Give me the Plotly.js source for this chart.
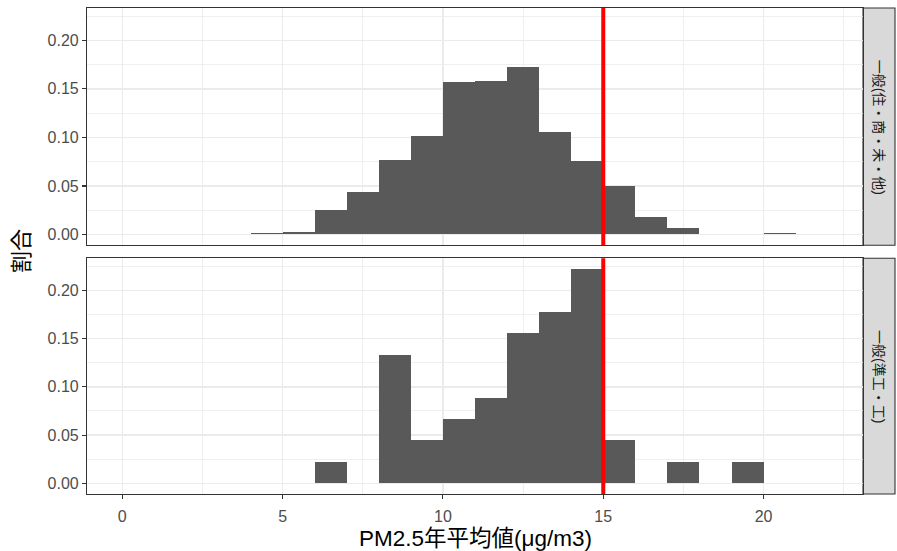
<!DOCTYPE html>
<html>
<head>
<meta charset="utf-8">
<script src="https://cdn.plot.ly/plotly-3.0.1.min.js"></script>
<style>html,body{margin:0;padding:0;background:#fff;}#chart{width:897px;height:551px;}</style>
</head>
<body>
<div id="chart"></div>
<script>
// Panel labels (facet strips)
const panelLabels = ["一般(住・商・未・他)", "一般(準工・工)"];

// Top panel: bin start (µg/m3, width 1) and share
const binsResidential = [4, 5, 6, 7, 8, 9, 10, 11, 12, 13, 14, 15, 16, 17, 20];
const shareResidential = [0.0013, 0.003, 0.025, 0.044, 0.0766, 0.1019, 0.157, 0.158, 0.1726, 0.106, 0.0752, 0.0496, 0.0185, 0.0072, 0.0013];

// Bottom panel
const binsIndustrial = [6, 8, 9, 10, 11, 12, 13, 14, 15, 17, 19];
const shareIndustrial = [0.0222, 0.1333, 0.0444, 0.0667, 0.0889, 0.1556, 0.1778, 0.2222, 0.0444, 0.0222, 0.0222];

const binWidth = 1;
const standardValue = 15;

const xTickVals = [0, 5, 10, 15, 20];
const yTickVals = [0, 0.05, 0.10, 0.15, 0.20];

const xTitle = "PM2.5年平均値(μg/m3)";
const yTitle = "割合";

const FONT = "Liberation Sans, Arial, Noto Sans CJK JP, sans-serif";
const barColor = "#595959";

const traces = [
  {type: "bar", x: binsResidential, y: shareResidential, width: binWidth, offset: 0,
   marker: {color: barColor, line: {width: 0}}, xaxis: "x2", yaxis: "y2", hoverinfo: "x+y"},
  {type: "bar", x: binsIndustrial, y: shareIndustrial, width: binWidth, offset: 0,
   marker: {color: barColor, line: {width: 0}}, xaxis: "x", yaxis: "y", hoverinfo: "x+y"}
];

const yRange = [-0.0111, 0.2333];
const xRange = [-1.1, 23.1];

const gridMinor = {showgrid: true, gridcolor: "#EBEBEB", gridwidth: 0.8};

const axisCommon = {
  showline: true, mirror: true, linecolor: "#333333", linewidth: 1.1,
  showgrid: true, gridcolor: "#EBEBEB", gridwidth: 1.5, zeroline: false,
  ticks: "outside", ticklen: 4, tickwidth: 1.1, tickcolor: "#333333",
  tickfont: {family: FONT, size: 16, color: "#4D4D4D"}
};

const yAxis = (domain) => Object.assign({}, axisCommon, {
  domain: domain, range: yRange, tickvals: yTickVals, tickformat: ".2f",
  minor: Object.assign({dtick: 0.025, tick0: 0}, gridMinor)
});
const xAxis = (extra) => Object.assign({}, axisCommon, {
  range: xRange, tickvals: xTickVals, ticklabelstandoff: 4,
  minor: Object.assign({dtick: 2.5, tick0: 0}, gridMinor)
}, extra);

const plotW = 897 - 87 - 34;
const stripX0 = 1.0;
const stripX1 = (895 - 87) / plotW;
const stripXc = (879 - 87) / plotW;

const topDomain = [0.5118, 1];
const botDomain = [0, 0.4851];

const shapes = [
  {type: "rect", xref: "paper", yref: "paper", x0: stripX0, x1: stripX1, y0: topDomain[0], y1: topDomain[1],
   fillcolor: "#D9D9D9", line: {color: "#333333", width: 1.1}, layer: "below"},
  {type: "rect", xref: "paper", yref: "paper", x0: stripX0, x1: stripX1, y0: botDomain[0], y1: botDomain[1],
   fillcolor: "#D9D9D9", line: {color: "#333333", width: 1.1}, layer: "below"},
  {type: "line", xref: "x2", yref: "y2 domain", x0: standardValue, x1: standardValue, y0: 0, y1: 1,
   line: {color: "#FF0000", width: 4}, layer: "above"},
  {type: "line", xref: "x", yref: "y domain", x0: standardValue, x1: standardValue, y0: 0, y1: 1,
   line: {color: "#FF0000", width: 4}, layer: "above"}
];

const annotations = [
  {text: panelLabels[0], xref: "paper", yref: "paper", x: stripXc, y: (topDomain[0] + topDomain[1]) / 2,
   showarrow: false, textangle: 90, font: {family: FONT, size: 14, color: "#1A1A1A"}, xanchor: "center", yanchor: "middle"},
  {text: panelLabels[1], xref: "paper", yref: "paper", x: stripXc, y: (botDomain[0] + botDomain[1]) / 2,
   showarrow: false, textangle: 90, font: {family: FONT, size: 14, color: "#1A1A1A"}, xanchor: "center", yanchor: "middle"},
  {text: yTitle, xref: "paper", yref: "paper", x: -0.085, y: 0.5, xanchor: "center", yanchor: "middle",
   showarrow: false, textangle: -90, font: {family: FONT, size: 22, color: "#000000"}},
  {text: xTitle, xref: "paper", yref: "paper", x: 0.5, y: -0.092, xanchor: "center", yanchor: "middle",
   showarrow: false, font: {family: FONT, size: 22.5, color: "#000000"}}
];

const layout = {
  width: 897, height: 551,
  margin: {l: 87, r: 34, t: 7.5, b: 57, pad: 0},
  paper_bgcolor: "#FFFFFF", plot_bgcolor: "#FFFFFF",
  showlegend: false, bargap: 0,
  xaxis: xAxis({anchor: "y", domain: [0, 1]}),
  yaxis: yAxis(botDomain),
  xaxis2: xAxis({anchor: "y2", domain: [0, 1], matches: "x", showticklabels: false, ticks: ""}),
  yaxis2: Object.assign(yAxis(topDomain), {anchor: "x2"}),
  shapes: shapes,
  annotations: annotations
};
layout.yaxis.anchor = "x";

Plotly.newPlot("chart", traces, layout, {displayModeBar: false, staticPlot: true});
</script>
</body>
</html>
